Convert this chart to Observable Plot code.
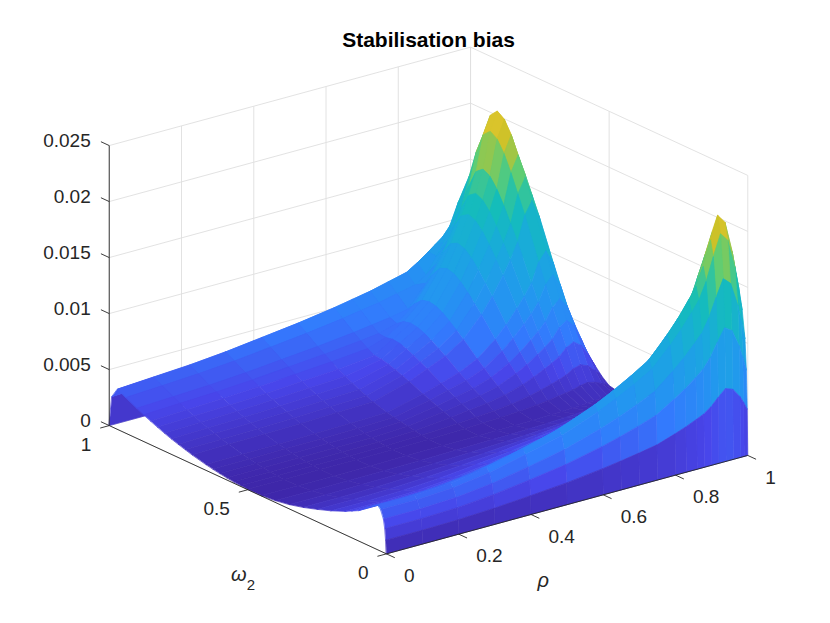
<!DOCTYPE html>
<html><head><meta charset="utf-8">
<script src="https://cdn.jsdelivr.net/npm/d3@7"></script>
<script src="https://cdn.jsdelivr.net/npm/@observablehq/plot@0.6"></script>
<style>body{margin:0;background:#fff;} #chart{width:830px;height:623px;}</style>
</head><body><div id="chart"></div>
<script>
// ---------------- data ----------------
const title = "Stabilisation bias";
const rho = [0, 0.1, 0.2, 0.3, 0.4, 0.5, 0.6, 0.65, 0.7, 0.75, 0.8, 0.83, 0.86, 0.88, 0.9, 0.92, 0.94, 0.96, 0.98, 0.99, 1];
const omega2 = [0, 0.002, 0.005, 0.01, 0.02, 0.03, 0.05, 0.075, 0.1, 0.125, 0.15, 0.2, 0.25, 0.3, 0.35, 0.4, 0.45, 0.5,
  0.525, 0.55, 0.575, 0.6, 0.625, 0.65, 0.7, 0.725, 0.75, 0.775, 0.8, 0.825, 0.85, 0.875, 0.9, 0.94, 0.97, 0.99, 1];
// bias in units of 1e-3: one row per rho value, one column per omega2 value
const biasRows = [
  [0,1.2,2.2,3.0,3.72,4.0,3.68,3.24,2.72,2.4,2.08,1.56,1.12,0.72,0.4,0.18,0.05,0.04,0.08,0.13,0.21,0.3,0.41,0.53,0.83,1.01,1.2,1.4,1.63,1.87,2.13,2.4,2.7,3.2,3.6,2.7,0],
  [0,1.2,2.2,3.0,3.72,4.0,3.68,3.24,2.72,2.4,2.08,1.56,1.12,0.72,0.4,0.18,0.05,0.04,0.08,0.14,0.22,0.32,0.43,0.56,0.88,1.06,1.27,1.48,1.72,1.98,2.25,2.54,2.85,3.37,3.8,2.85,0],
  [0,1.26,2.31,3.15,3.91,4.2,3.86,3.4,2.86,2.52,2.18,1.64,1.18,0.76,0.42,0.19,0.05,0.04,0.09,0.15,0.23,0.33,0.46,0.59,0.92,1.12,1.33,1.56,1.81,2.08,2.37,2.67,3.0,3.55,4.0,3.0,0],
  [0,1.41,2.59,3.53,4.37,4.7,4.32,3.81,3.2,2.82,2.44,1.83,1.32,0.85,0.47,0.21,0.06,0.04,0.09,0.16,0.25,0.36,0.49,0.64,0.99,1.2,1.43,1.68,1.95,2.24,2.55,2.87,3.22,3.82,4.3,3.23,0],
  [0,1.65,3.03,4.13,5.12,5.5,5.06,4.46,3.74,3.3,2.86,2.15,1.54,0.99,0.55,0.25,0.08,0.05,0.1,0.17,0.27,0.39,0.54,0.7,1.09,1.32,1.57,1.83,2.13,2.44,2.78,3.14,3.52,4.17,4.7,3.53,0],
  [0,1.92,3.52,4.8,5.95,6.4,5.89,5.18,4.35,3.84,3.33,2.5,1.79,1.15,0.64,0.29,0.1,0.09,0.18,0.3,0.41,0.53,0.65,0.78,1.18,1.43,1.7,1.99,2.31,2.65,3.02,3.41,3.82,4.53,5.1,3.83,0],
  [0,2.31,4.24,5.78,7.16,7.7,7.08,6.24,5.24,4.62,4.0,3.0,2.16,1.39,0.77,0.35,0.12,0.18,0.36,0.6,0.83,1.05,1.31,1.56,2.1,2.34,2.58,2.79,2.94,3.0,3.32,3.74,4.19,4.97,5.6,4.2,0],
  [0,2.55,4.68,6.38,7.91,8.5,7.82,6.89,5.78,5.1,4.42,3.32,2.38,1.53,0.85,0.38,0.14,0.24,0.48,0.8,1.1,1.4,1.74,2.08,2.8,3.12,3.44,3.72,3.92,4.0,3.88,3.94,4.42,5.24,5.9,4.43,0],
  [0,2.82,5.17,7.05,8.74,9.4,8.65,7.61,6.39,5.64,4.89,3.67,2.63,1.69,0.94,0.42,0.16,0.3,0.6,1.0,1.38,1.75,2.18,2.6,3.5,3.9,4.3,4.65,4.9,5.0,4.85,4.4,4.64,5.51,6.2,4.65,0],
  [0,3.12,5.72,7.8,9.67,10.4,9.57,8.42,7.07,6.24,5.41,4.06,2.91,1.87,1.04,0.47,0.19,0.39,0.78,1.3,1.79,2.28,2.83,3.38,4.55,5.07,5.59,6.05,6.37,6.5,6.31,5.72,4.94,5.86,6.6,4.95,0],
  [0,3.66,6.71,9.15,11.35,12.2,11.22,9.88,8.3,7.32,6.34,4.76,3.42,2.2,1.22,0.55,0.24,0.54,1.08,1.8,2.48,3.15,3.92,4.68,6.3,7.02,7.74,8.37,8.82,9.0,8.73,7.92,6.84,6.22,7.0,5.25,0],
  [0,4.02,7.37,10.05,12.46,13.4,12.33,10.85,9.11,8.04,6.97,5.23,3.75,2.41,1.34,0.6,0.27,0.66,1.32,2.2,3.03,3.85,4.79,5.72,7.7,8.58,9.46,10.23,10.78,11.0,10.67,9.68,8.36,6.82,7.6,5.7,0],
  [0,4.44,8.14,11.1,13.76,14.8,13.62,11.99,10.06,8.88,7.7,5.77,4.14,2.66,1.48,0.67,0.31,0.8,1.6,2.66,3.66,4.66,5.79,6.92,9.31,10.37,11.44,12.37,13.03,13.3,12.9,11.7,10.11,8.25,8.3,6.23,0],
  [0,4.74,8.69,11.85,14.69,15.8,14.54,12.8,10.74,9.48,8.22,6.16,4.42,2.84,1.58,0.71,0.34,0.9,1.8,3.0,4.13,5.25,6.53,7.8,10.5,11.7,12.9,13.95,14.7,15.0,14.55,13.2,11.4,9.3,8.8,6.6,0],
  [0,5.22,9.57,13.05,16.18,17.4,16.01,14.09,11.83,10.44,9.05,6.79,4.87,3.13,1.74,0.78,0.38,1.02,2.04,3.4,4.68,5.95,7.4,8.84,11.9,13.26,14.62,15.81,16.66,17.0,16.49,14.96,12.92,10.54,9.3,6.98,0],
  [0,5.88,10.78,14.7,18.23,19.6,18.03,15.88,13.33,11.76,10.19,7.64,5.49,3.53,1.96,0.88,0.44,1.21,2.42,4.04,5.56,7.07,8.79,10.5,14.14,15.76,17.37,18.79,19.8,20.2,19.59,17.78,15.35,12.52,10.1,8.08,0],
  [0,6.48,11.88,16.2,20.09,21.6,19.87,17.5,14.69,12.96,11.23,8.42,6.05,3.89,2.16,0.97,0.48,1.31,2.62,4.36,6.0,7.63,9.48,11.34,15.26,17.0,18.75,20.27,21.36,21.8,21.15,19.18,16.57,13.52,10.9,8.72,0],
  [0,6.24,11.44,15.6,19.34,20.8,19.14,16.85,14.14,12.48,10.82,8.11,5.82,3.74,2.08,0.94,0.45,1.17,2.34,3.9,5.36,6.83,8.48,10.14,13.65,15.21,16.77,18.14,19.11,19.5,18.92,17.16,14.82,12.09,9.75,7.8,0],
  [0,5.4,9.9,13.5,16.74,18.0,16.56,14.58,12.24,10.8,9.36,7.02,5.04,3.24,1.8,0.81,0.37,0.87,1.74,2.9,3.99,5.08,6.31,7.54,10.15,11.31,12.47,13.49,14.21,14.5,14.07,12.76,11.02,8.99,8.2,6.15,0],
  [0,4.8,8.8,12.0,14.88,16.0,14.72,12.96,10.88,9.6,8.32,6.24,4.48,2.88,1.6,0.72,0.31,0.69,1.4,2.3,3.15,4.03,5.0,5.98,8.05,8.97,9.89,10.7,11.27,11.5,11.16,10.12,8.74,7.13,7.1,5.33,0],
  [0,4.11,7.54,10.28,12.74,13.7,12.6,11.1,9.32,8.22,7.12,5.34,3.84,2.47,1.37,0.62,0.25,0.51,1.02,1.7,2.34,2.98,3.7,4.42,5.95,6.63,7.31,7.91,8.33,8.5,8.25,7.48,6.46,5.27,6.0,4.5,0]
];
const biasUnit = 1e-3;
const zTicks = [0, 0.005, 0.01, 0.015, 0.02, 0.025];
const zTickLabels = ["0", "0.005", "0.01", "0.015", "0.02", "0.025"];
const rhoTicks = [0, 0.2, 0.4, 0.6, 0.8, 1];
const rhoTickLabels = ["0", "0.2", "0.4", "0.6", "0.8", "1"];
const omegaTicks = [0, 0.5, 1];
const omegaTickLabels = ["0", "0.5", "1"];
const zLimit = 0.025;
// parula-like colour stops and the bias value each stop sits at
const colorStopValues = [0, 0.0025, 0.0048, 0.0075, 0.011, 0.0145, 0.0172, 0.0198, 0.023, 0.026];
const colorStops = ["#3e26a8", "#4846eb", "#337afd", "#2396f0", "#19aadc", "#14beb8", "#5ecd74", "#cbc128", "#fdcb32", "#f9fb15"];

biasRows.forEach((r, i) => { if (r.length !== omega2.length) console.error("row", i, "has", r.length, "values"); });

// ---------------- view (MATLAB-like az/el) ----------------
const W = 830, H = 623;
const AZ = -37.5 * Math.PI / 180, EL = 30 * Math.PI / 180;
const BOX = 455.4, SQUASH = 0.71, CX = 428, CY = 300;
const sa = Math.sin(AZ), ca = Math.cos(AZ), se = Math.sin(EL), ce = Math.cos(EL);
function P(r, w, z) {
  const X = r - 0.5, Y = w - 0.5, Z = z / zLimit - 0.5;
  return {u: X * ca + Y * sa, v: -X * sa * se + Y * ca * se + Z * ce};
}
const depth = (r, w) => -r * sa + w * ca; // larger = farther from viewer
function seg(a, b) { const p = P(...a), q = P(...b); return {x1: p.u, y1: p.v, x2: q.u, y2: q.v}; }

// ---------------- surface cells (painter's order, far to near) ----------------
const cells = [];
for (let i = 0; i < rho.length - 1; i++) {
  for (let j = 0; j < omega2.length - 1; j++) {
    const cs = [[i, j], [i + 1, j], [i + 1, j + 1], [i, j + 1]];
    const zs = cs.map(([a, b]) => biasRows[a][b] * biasUnit);
    cells.push({
      d: depth((rho[i] + rho[i + 1]) / 2, (omega2[j] + omega2[j + 1]) / 2),
      c: d3.mean(zs),
      pts: cs.map(([a, b], k) => P(rho[a], omega2[b], zs[k]))
    });
  }
}
cells.sort((a, b) => b.d - a.d);
const surfPts = cells.flatMap((t, k) => t.pts.map(p => ({id: k, u: p.u, v: p.v, c: t.c})));

// ---------------- grid / axes ----------------
const grid = [];
for (const r of rhoTicks) grid.push(seg([r, 1, 0], [r, 1, zLimit]));
for (const z of zTicks) grid.push(seg([0, 1, z], [1, 1, z]));
for (const w of omegaTicks) grid.push(seg([1, w, 0], [1, w, zLimit]));
for (const z of zTicks) grid.push(seg([1, 0, z], [1, 1, z]));
for (const r of rhoTicks) grid.push(seg([r, 0, 0], [r, 1, 0]));
for (const w of omegaTicks) grid.push(seg([0, w, 0], [1, w, 0]));

const axisLines = [seg([0, 1, 0], [0, 1, zLimit]), seg([0, 0, 0], [0, 1, 0]), seg([0, 0, 0], [1, 0, 0])];
const tickMarks = [
  ...zTicks.map(z => seg([0, 1, z], [0, 1.03, z])),
  ...omegaTicks.map(w => seg([0, w, 0], [-0.025, w, 0])),
  ...rhoTicks.map(r => seg([r, 0, 0], [r, -0.03, 0]))
];
const zLab = zTicks.map((z, i) => ({...P(0, 1, z), t: zTickLabels[i]}));
const wLab = omegaTicks.map((w, i) => ({...P(0, w, 0), t: omegaTickLabels[i]}));
const rLab = rhoTicks.map((r, i) => ({...P(r, 0, 0), t: rhoTickLabels[i]}));
const wMid = [P(0, 0.5, 0)], rMid = [P(0.5, 0, 0)];

const font = "Liberation Sans, Arial, Helvetica, sans-serif";
const ink = "#262626";

const chart = Plot.plot({
  width: W, height: H, margin: 0,
  x: {domain: [(0 - CX) / BOX, (W - CX) / BOX], axis: null},
  y: {domain: [(CY - H) / (BOX * SQUASH), CY / (BOX * SQUASH)], axis: null},
  color: {type: "linear", domain: colorStopValues, range: colorStops, clamp: true},
  style: {fontFamily: font, background: "#fff"},
  marks: [
    Plot.link(grid, {x1: "x1", y1: "y1", x2: "x2", y2: "y2", stroke: "#dfdfdf", strokeWidth: 0.9}),
    Plot.line(surfPts, {x: "u", y: "v", z: "id", fill: "c", stroke: "c", strokeWidth: 0.7, curve: "linear-closed"}),
    Plot.link(axisLines, {x1: "x1", y1: "y1", x2: "x2", y2: "y2", stroke: ink, strokeWidth: 0.9}),
    Plot.link(tickMarks, {x1: "x1", y1: "y1", x2: "x2", y2: "y2", stroke: ink, strokeWidth: 0.9}),
    Plot.text(zLab, {x: "u", y: "v", text: "t", textAnchor: "end", dx: -18.5, dy: -4.5, fontSize: 19, fill: ink}),
    Plot.text(wLab, {x: "u", y: "v", text: "t", textAnchor: "end", dx: -18, dy: 19, fontSize: 19, fill: ink}),
    Plot.text(rLab, {x: "u", y: "v", text: "t", textAnchor: "start", dx: 17.5, dy: 22, fontSize: 19, fill: ink}),
    Plot.text(wMid, {x: "u", y: "v", text: () => "ω", dx: -9, dy: 85, fontSize: 20, fontStyle: "italic", fill: ink}),
    Plot.text(wMid, {x: "u", y: "v", text: () => "2", dx: 3, dy: 95, fontSize: 15, fill: ink}),
    Plot.text(rMid, {x: "u", y: "v", text: () => "ρ", dx: -24, dy: 76, fontSize: 20, fontStyle: "italic", fill: ink}),
    Plot.text([title], {frameAnchor: "top", dx: 13, dy: 32, fontSize: 21, fontWeight: "bold", fill: "#000"})
  ]
});
document.getElementById("chart").appendChild(chart);
</script>
</body></html>
